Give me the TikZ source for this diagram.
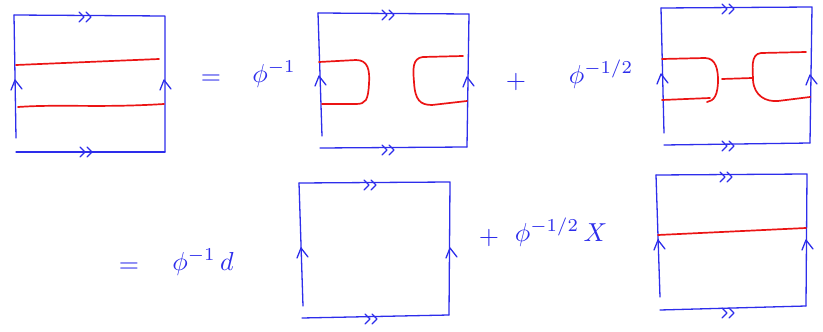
\documentclass[tikz,border=0pt]{standalone}
\usetikzlibrary{calc}
\definecolor{penblue}{RGB}{45,45,235}
\definecolor{penred}{RGB}{235,20,20}
\begin{document}
\begin{tikzpicture}[x=1pt,y=-1pt,
  frame/.style={draw=penblue,line width=1.3pt,line cap=round,line join=round},
  strand/.style={draw=penred,line width=1.7pt,line cap=round,line join=round},
  lbl/.style={text=penblue,scale=2.6,inner sep=0pt},
  upchev/.pic={\draw[frame] (-4,10) -- (0,0) -- (7,9);},
  dblchev/.pic={\draw[frame] (-8,-5) -- (-3,0) -- (-8,5); \draw[frame] (-1,-5) -- (4,0) -- (-1,5);}]
\useasboundingbox (0,0) rectangle (823,332);

% box 1
\coordinate (a1) at (14,15); \coordinate (b1) at (165,16);
\coordinate (c1) at (165,152); \coordinate (d1) at (16,152);
\draw[frame] (a1) -- (b1) -- (c1);
\draw[frame] (d1) -- (c1);
\draw[frame] (a1) -- (16,138);
\pic at (15,80) {upchev}; \pic at (164,80) {upchev};
\pic at (87,17) {dblchev}; \pic at (88,152) {dblchev};
\draw[strand] (16,65) -- (159,59);
\draw[strand] (18,107) .. controls (60,104) and (100,108) .. (164,104);

\node[lbl] (eq1) at (211,80) {$=$};
\node[lbl] (t1) at (274,74) {$\phi^{-1}$};

% box 2
\coordinate (a2) at (318,13); \coordinate (b2) at (469,14);
\coordinate (c2) at (467,147); \coordinate (d2) at (320,148);
\draw[frame] (a2) -- (b2) -- (c2);
\draw[frame] (d2) -- (c2);
\draw[frame] (a2) -- (322,136);
\pic at (319,76) {upchev}; \pic at (467,77) {upchev};
\pic at (390,15) {dblchev}; \pic at (390,150) {dblchev};
\draw[strand] (319,62) -- (356,60) .. controls (368,60) and (370,70) .. (369,84)
  .. controls (368,100) and (366,104) .. (356,104) -- (322,104);
\draw[strand] (463,56) -- (423,57) .. controls (412,58) and (413,70) .. (414,82)
  .. controls (415,100) and (420,105) .. (432,105) -- (467,101);

\node[lbl] (plus1) at (516,82) {$+$};
\node[lbl] (t2) at (601,74) {$\phi^{-1/2}$};

% box 3
\coordinate (a3) at (661,8); \coordinate (b3) at (812,7);
\coordinate (c3) at (810,143); \coordinate (d3) at (664,145);
\draw[frame] (a3) -- (b3) -- (c3);
\draw[frame] (d3) -- (c3);
\draw[frame] (a3) -- (664,133);
\pic at (661,74) {upchev}; \pic at (810,75) {upchev};
\pic at (730,9) {dblchev}; \pic at (730,146) {dblchev};
\draw[strand] (662,59) -- (705,58) .. controls (716,58) and (718,70) .. (718,80)
  .. controls (718,95) and (714,101) .. (707,102);
\draw[strand] (662,100) -- (710,98);
\draw[strand] (722,79) -- (752,78);
\draw[strand] (806,52) -- (761,53) .. controls (750,54) and (753,70) .. (753,80)
  .. controls (754,96) and (766,102) .. (778,101) -- (810,97);

% row 2
\node[lbl] (eq2) at (129,268) {$=$};
\node[lbl] (t3) at (203,262) {$\phi^{-1}\,d$};

% box 4
\coordinate (a4) at (299,183); \coordinate (b4) at (450,182);
\coordinate (c4) at (449,315); \coordinate (d4) at (302,318);
\draw[frame] (a4) -- (b4) -- (c4);
\draw[frame] (d4) -- (c4);
\draw[frame] (a4) -- (303,306);
\pic at (301,248) {upchev}; \pic at (450,248) {upchev};
\pic at (372,185) {dblchev}; \pic at (373,319) {dblchev};

\node[lbl] (plus2) at (489,238) {$+$};
\node[lbl] (t4) at (561,232) {$\phi^{-1/2}\,X$};

% box 5
\coordinate (a5) at (656,175); \coordinate (b5) at (807,174);
\coordinate (c5) at (806,306); \coordinate (d5) at (660,310);
\draw[frame] (a5) -- (b5) -- (c5);
\draw[frame] (d5) -- (c5);
\draw[frame] (a5) -- (660,297);
\pic at (658,240) {upchev}; \pic at (806,240) {upchev};
\pic at (728,177) {dblchev}; \pic at (730,313) {dblchev};
\draw[strand] (658,235) -- (806,228);
\end{tikzpicture}
\end{document}
